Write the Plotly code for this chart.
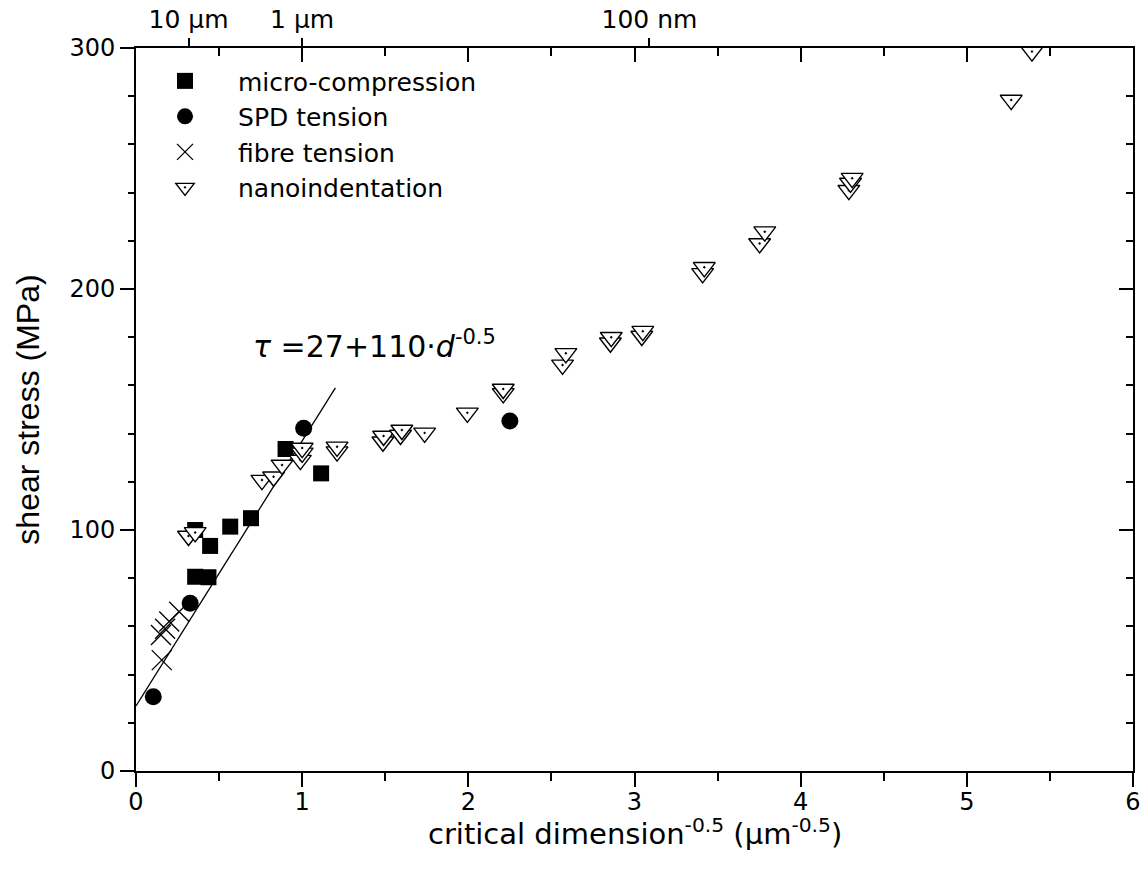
import plotly.graph_objects as go

# ---- data ----
mc_x = [0.356, 0.436, 0.356, 0.446, 0.567, 0.692, 0.900, 1.114]
mc_y = [80.6, 80.4, 100.0, 93.4, 101.4, 104.9, 133.6, 123.5]

spd_x = [0.104, 0.326, 1.009, 2.25]
spd_y = [30.8, 69.6, 142.2, 145.2]

fib_x = [0.155, 0.150, 0.175, 0.200, 0.260]
fib_y = [46.0, 56.4, 59.0, 62.0, 66.1]

nano_x = [0.316, 0.356, 0.758, 0.828, 0.879, 0.989, 1.000, 1.000, 1.210, 1.210,
          1.486, 1.490, 1.592, 1.600, 1.737, 1.994, 2.210, 2.210, 2.567, 2.587,
          2.855, 2.860, 3.044, 3.050, 3.410, 3.420, 3.753, 3.784, 4.290, 4.300,
          4.310, 5.267, 5.392]
nano_y = [97.5, 99.0, 120.7, 122.1, 127.0, 129.0, 132.0, 134.0, 132.5, 134.5,
          136.6, 139.0, 139.4, 141.5, 140.3, 148.6, 156.7, 158.5, 168.5, 173.3,
          177.7, 180.0, 180.5, 182.5, 206.5, 209.0, 218.9, 223.8, 241.0, 244.0,
          246.0, 278.4, 298.5]

fit_intercept = 27
fit_slope = 110
fit_x = [0.0, 1.2]
fit_y = [fit_intercept + fit_slope * v for v in fit_x]

top_tick_vals = [0.316, 1.0, 3.09]
top_tick_text = ["10 µm", "1 µm", "100 nm"]

FONT = "DejaVu Sans"
BLACK = "black"

fig = go.Figure()
fig.add_trace(go.Scatter(x=fit_x, y=fit_y, mode="lines",
                         line=dict(color=BLACK, width=1.3), showlegend=False))
fig.add_trace(go.Scatter(x=mc_x, y=mc_y, mode="markers", name="micro-compression",
                         marker=dict(symbol="square", size=16, color=BLACK)))
fig.add_trace(go.Scatter(x=spd_x, y=spd_y, mode="markers", name="SPD tension",
                         marker=dict(symbol="circle", size=17, color=BLACK)))
fig.add_trace(go.Scatter(x=fib_x, y=fib_y, mode="markers", name="fibre tension",
                         marker=dict(symbol="x-thin-open", size=20, color=BLACK,
                                     line=dict(width=1.3, color=BLACK))))
fig.add_trace(go.Scatter(x=nano_x, y=nano_y, mode="markers", name="nanoindentation",
                         marker=dict(symbol="triangle-down-dot", size=19, color="white",
                                     line=dict(width=1.4, color=BLACK))))

# empty traces so that the mirrored frame axes are drawn
fig.add_trace(go.Scatter(x=[None], y=[None], xaxis="x2", yaxis="y2", mode="markers",
                         showlegend=False, hoverinfo="skip"))
fig.add_trace(go.Scatter(x=[None], y=[None], xaxis="x3", yaxis="y", mode="markers",
                         showlegend=False, hoverinfo="skip"))

fig.add_annotation(x=0.69, y=177, xref="x", yref="y", xanchor="left", yanchor="middle",
                   text="<i>τ</i> =27+110·<i>d</i><sup>-0.5</sup>", showarrow=False,
                   font=dict(family=FONT, size=30, color=BLACK))

# x-axis title
fig.add_annotation(x=0.5, y=-0.055, xref="paper", yref="paper", xanchor="center",
                   yanchor="top", showarrow=False,
                   text="critical dimension<sup>-0.5</sup> (µm<sup>-0.5</sup>)",
                   font=dict(family=FONT, size=29, color=BLACK))

axis_common = dict(showgrid=False, zeroline=False, linecolor=BLACK, linewidth=2,
                   tickcolor=BLACK, tickwidth=2, automargin=False)

fig.update_layout(
    width=1145, height=878,
    margin=dict(l=136, r=12, t=48, b=107),
    plot_bgcolor="white", paper_bgcolor="white",
    font=dict(family=FONT, color=BLACK),
    xaxis=dict(range=[0, 6], tick0=0, dtick=1, ticks="outside", ticklen=14,
               showline=True, tickfont=dict(size=24, family=FONT),
               ticklabelstandoff=-6,
               minor=dict(ticks="outside", ticklen=8, dtick=0.5, tick0=0,
                          tickcolor=BLACK, tickwidth=2),
               **axis_common),
    xaxis2=dict(range=[0, 6], overlaying="x", side="top", anchor="y2", tick0=0, dtick=1,
                ticks="inside", ticklen=14, showline=True, showticklabels=False,
                minor=dict(ticks="inside", ticklen=8, dtick=0.5, tick0=0,
                           tickcolor=BLACK, tickwidth=2),
                **axis_common),
    xaxis3=dict(range=[0, 6], overlaying="x", side="top", anchor="y",
                tickmode="array", tickvals=top_tick_vals, ticktext=top_tick_text,
                ticks="outside", ticklen=9, showline=False,
                tickfont=dict(size=25, family=FONT),
                showgrid=False, zeroline=False, tickcolor=BLACK, tickwidth=2,
                automargin=False),
    yaxis=dict(range=[0, 300], tick0=0, dtick=100, ticks="outside", ticklen=14,
               showline=True, tickfont=dict(size=24, family=FONT),
               minor=dict(ticks="outside", ticklen=6, dtick=20, tick0=0,
                          tickcolor=BLACK, tickwidth=2),
               title=dict(text="shear stress (MPa)",
                          font=dict(size=32, family="Liberation Sans"), standoff=20),
               **axis_common),
    yaxis2=dict(range=[0, 300], overlaying="y", side="right", anchor="x2", tick0=0,
                dtick=100, ticks="inside", ticklen=14, showline=True,
                showticklabels=False,
                minor=dict(ticks="inside", ticklen=7, dtick=20, tick0=0,
                           tickcolor=BLACK, tickwidth=2),
                **axis_common),
    legend=dict(x=-0.004, y=0.986, xanchor="left", yanchor="top",
                bgcolor="rgba(0,0,0,0)", font=dict(size=25, family=FONT),
                itemwidth=96, tracegroupgap=0),
)

fig.write_html("out.html")
